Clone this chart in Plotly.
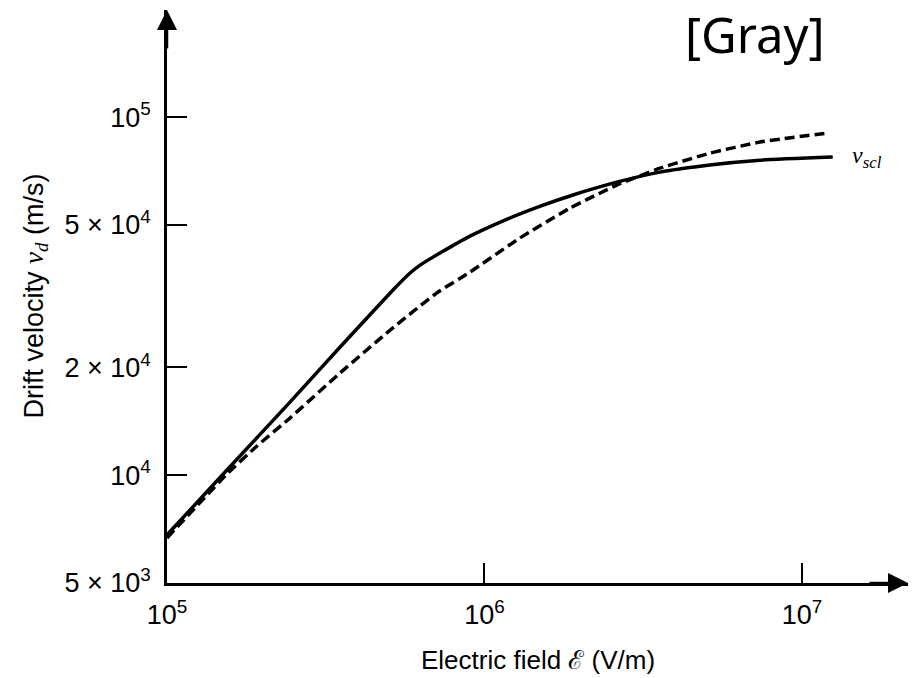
import plotly.graph_objects as go
import math

# ---- data ----
field_solid = [1.0e5, 1.545e5, 2.44e5, 3.51e5, 5.15e5, 5.83e5, 6.27e5, 7.24e5, 9.0e5,
               1.18e6, 1.50e6, 1.90e6, 2.61e6, 3.57e6, 5.13e6, 7.38e6, 1.25e7]
vel_solid = [6.81e3, 1.034e4, 1.60e4, 2.28e4, 3.29e4, 3.67e4, 3.86e4, 4.17e4, 4.65e4,
             5.19e4, 5.64e4, 6.06e4, 6.58e4, 7.02e4, 7.35e4, 7.58e4, 7.73e4]

field_dashed = [1.0e5, 1.545e5, 1.92e5, 2.44e5, 3.51e5, 5.04e5, 7.08e5, 9.0e5,
                1.29e6, 1.86e6, 2.61e6, 3.57e6, 5.13e6, 7.38e6, 1.20e7]
vel_dashed = [6.68e3, 1.008e4, 1.206e4, 1.444e4, 1.93e4, 2.54e4, 3.23e4, 3.69e4,
              4.59e4, 5.57e4, 6.46e4, 7.20e4, 7.93e4, 8.52e4, 9.02e4]

x_tickvals = [1e5, 1e6, 1e7]
x_ticktext = ["10<sup>5</sup>", "10<sup>6</sup>", "10<sup>7</sup>"]
y_tickvals = [5e3, 1e4, 2e4, 5e4, 1e5]
y_ticktext = ["5 × 10<sup>3</sup>", "10<sup>4</sup>", "2 × 10<sup>4</sup>",
              "5 × 10<sup>4</sup>", "10<sup>5</sup>"]

title_text = "[Gray]"
x_title = "Electric field ℰ (V/m)"
y_title = ("Drift velocity <span style=\"font-family:'Liberation Serif'\"><i>v<sub>d</sub></i></span> (m/s)")
curve_label = "<i>v<sub>scl</sub></i>"

FONT = "Liberation Sans, Arial, sans-serif"

fig = go.Figure()
fig.add_trace(go.Scatter(x=field_solid, y=vel_solid, mode="lines",
                         line=dict(color="black", width=3.5, shape="spline", smoothing=0.4),
                         showlegend=False, hoverinfo="skip"))
fig.add_trace(go.Scatter(x=field_dashed, y=vel_dashed, mode="lines",
                         line=dict(color="black", width=3.5, dash="10px,5px",
                                   shape="spline", smoothing=0.4),
                         showlegend=False, hoverinfo="skip"))

fig.update_layout(
    width=915, height=678,
    margin=dict(l=167, r=7, t=10, b=95),
    paper_bgcolor="white", plot_bgcolor="white",
    font=dict(family=FONT, color="black"),
    xaxis=dict(type="log", range=[5, 7.334], showgrid=False, zeroline=False,
               showline=True, linecolor="black", linewidth=2.5,
               ticks="inside", ticklen=20, tickwidth=1.5, tickcolor="black",
               tickvals=x_tickvals, ticktext=x_ticktext,
               tickfont=dict(size=27, family=FONT, color="black"),
               ticklabelstandoff=6),
    yaxis=dict(type="log", range=[math.log10(5e3), 5.299], showgrid=False, zeroline=False,
               showline=True, linecolor="black", linewidth=2.5,
               ticks="inside", ticklen=20, tickwidth=1.5, tickcolor="black",
               tickvals=y_tickvals, ticktext=y_ticktext,
               tickfont=dict(size=27, family=FONT, color="black"),
               ticklabelstandoff=8),
)

annotations = [
    # axis arrows
    dict(x=0, y=1, xref="paper", yref="paper", ax=0, ay=40, text="",
         showarrow=True, arrowhead=2, arrowsize=1.6, arrowwidth=2.5, arrowcolor="black"),
    dict(x=1, y=0, xref="paper", yref="paper", ax=-40, ay=0, text="",
         showarrow=True, arrowhead=2, arrowsize=1.6, arrowwidth=2.5, arrowcolor="black"),
    # axis titles
    dict(x=0.5, y=0, xref="paper", yref="paper", yshift=-77, text=x_title,
         showarrow=False, xanchor="center", yanchor="middle",
         font=dict(size=26, family=FONT, color="black")),
    dict(x=0, y=0.5, xref="paper", yref="paper", xshift=-132, text=y_title,
         showarrow=False, xanchor="center", yanchor="middle", textangle=-90,
         font=dict(size=27, family=FONT, color="black")),
    # title
    dict(x=0.7935, y=0.958, xref="paper", yref="paper", text=title_text,
         showarrow=False, xanchor="center", yanchor="middle",
         font=dict(size=49, family="Noto Sans, sans-serif", color="black")),
    # curve label
    dict(x=math.log10(field_solid[-1]), y=math.log10(vel_solid[-1]), xref="x", yref="y",
         xshift=17, yshift=0, text=curve_label, showarrow=False,
         xanchor="left", yanchor="middle",
         font=dict(size=24, family="Liberation Serif, serif", color="black")),
]
fig.update_layout(annotations=annotations)

fig.write_html("out.html")
